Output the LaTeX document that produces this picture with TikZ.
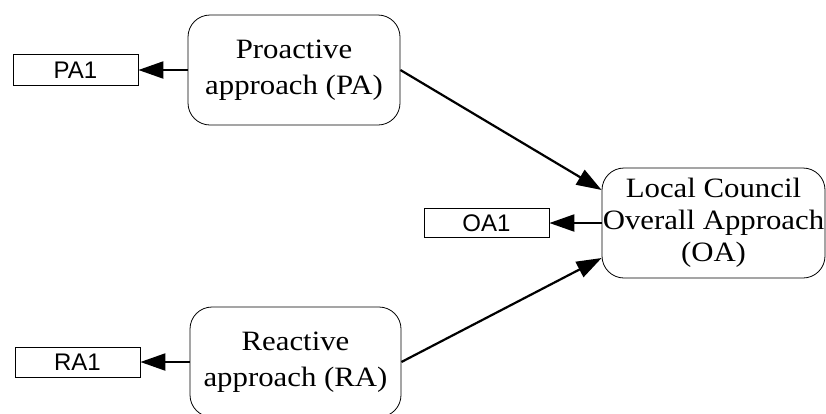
\documentclass[tikz,border=0pt]{standalone}
\usepackage{fontspec}
\newfontfamily\boxfont[FakeStretch=1.1]{Liberation Serif}
\newfontfamily\codefont{Liberation Sans}
\usetikzlibrary{arrows.meta,calc}

\begin{document}
\begin{tikzpicture}[x=1pt,y=-1pt,
  approach/.style={draw, line width=0.8pt, rounded corners=22pt, align=center,
    inner sep=0pt, minimum height=110pt, font=\boxfont\fontsize{28}{36}\selectfont},
  code/.style={draw, line width=0.8pt, minimum width=125pt, inner sep=0pt,
    font=\codefont\fontsize{24}{24}\selectfont},
  link/.style={line width=2.2pt, -{Triangle[length=25pt,width=17pt]}}]
\useasboundingbox (0,0) rectangle (826,413);
\clip (0,0) rectangle (826,413);

% approach boxes
\node[approach, minimum width=212pt] (pa) at (294,70)
  {Proactive\\approach (PA)};
\node[approach, minimum width=211pt] (ra) at (295.5,362)
  {Reactive\\approach (RA)};
\node[approach, minimum width=223pt, font=\boxfont\fontsize{28}{32}\selectfont]
  (oa) at (713.5,223) {Local Council\\Overall Approach\\(OA)};

% indicator boxes
\node[code, minimum height=31pt] (pa1) at (75.5,70) {PA1};
\node[code, minimum height=29pt] (oa1) at (486.5,223) {OA1};
\node[code, minimum height=30pt] (ra1) at (77.5,362) {RA1};

% connectors
\draw[link] (pa.west) -- (pa1.east);
\draw[link] (oa.west) -- (oa1.east);
\draw[link] (ra.west) -- (ra1.east);
\draw[link] (pa.east) -- ($(oa.west)+(0,-33)$);
\draw[link] (ra.east) -- ($(oa.west)+(0,35)$);
\end{tikzpicture}
\end{document}
